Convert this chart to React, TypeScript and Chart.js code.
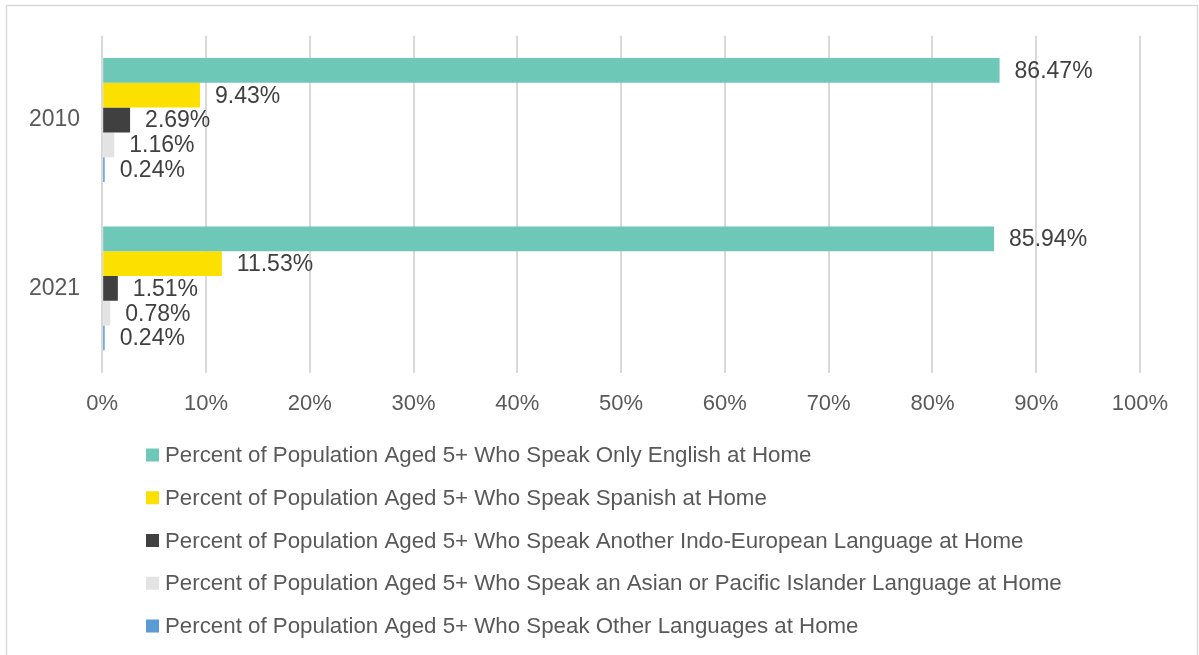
import React, { useEffect, useRef } from "react";
import { Chart, registerables } from "chart.js";

Chart.register(...registerables);

const categories = ["2010", "2021"];
const seriesLabels = [
  "Percent of Population Aged 5+ Who Speak Only English at Home",
  "Percent of Population Aged 5+ Who Speak Spanish at Home",
  "Percent of Population Aged 5+ Who Speak Another Indo-European Language at Home",
  "Percent of Population Aged 5+ Who Speak an Asian or Pacific Islander Language at Home",
  "Percent of Population Aged 5+ Who Speak Other Languages at Home",
];
const onlyEnglish = [86.47, 85.94];
const spanish = [9.43, 11.53];
const indoEuropean = [2.69, 1.51];
const asianPacific = [1.16, 0.78];
const otherLanguages = [0.24, 0.24];
const seriesColors = ["#6DC8B7", "#FCE000", "#404040", "#E3E3E3", "#5B9BD5"];
const xTicks = [0, 10, 20, 30, 40, 50, 60, 70, 80, 90, 100];

const FONT = "'Liberation Sans', Arial, sans-serif";

const valueLabelPlugin = {
  id: "valueLabels",
  afterDatasetsDraw(chart: any) {
    const ctx = chart.ctx;
    ctx.save();
    ctx.font = `23px ${FONT}`;
    ctx.fillStyle = "#404040";
    ctx.textBaseline = "middle";
    ctx.textAlign = "left";
    chart.data.datasets.forEach((ds: any, di: number) => {
      const meta = chart.getDatasetMeta(di);
      meta.data.forEach((bar: any, i: number) => {
        const v = ds.data[i];
        ctx.fillText(v.toFixed(2) + "%", bar.x + 15, bar.y + 1);
      });
    });
    ctx.restore();
  },
};

const legendPlugin = {
  id: "customLegend",
  afterDraw(chart: any) {
    const ctx = chart.ctx;
    ctx.save();
    ctx.font = `22.3px ${FONT}`;
    ctx.textBaseline = "middle";
    ctx.textAlign = "left";
    const startY = 455;
    const step = 42.75;
    chart.data.datasets.forEach((ds: any, i: number) => {
      const y = startY + i * step;
      ctx.fillStyle = ds.backgroundColor;
      ctx.fillRect(146, y - 6.5, 13, 13);
      ctx.fillStyle = "#595959";
      ctx.fillText(ds.label, 165, y + 1);
    });
    // outer border
    ctx.strokeStyle = "#D9D9D9";
    ctx.lineWidth = 1.5;
    ctx.strokeRect(6.5, 5.5, 1191, 700);
    ctx.restore();
  },
};

export default function App() {
  const ref = useRef<HTMLCanvasElement>(null);
  useEffect(() => {
    document.body.style.margin = "0";
    const seriesValues = [onlyEnglish, spanish, indoEuropean, asianPacific, otherLanguages];
    const chart = new Chart(ref.current!, {
      type: "bar",
      data: {
        labels: categories,
        datasets: seriesLabels.map((label, i) => ({
          label,
          data: seriesValues[i],
          backgroundColor: seriesColors[i],
          borderWidth: 0,
          barPercentage: 1,
          categoryPercentage: 0.736,
        })),
      },
      options: {
        indexAxis: "y",
        animation: false,
        responsive: false,
        maintainAspectRatio: false,
        layout: { padding: { left: 7, right: 59, top: 35, bottom: 220 } },
        plugins: {
          legend: { display: false },
          tooltip: { enabled: false },
        },
        scales: {
          x: {
            min: 0,
            max: 100,
            afterBuildTicks: (axis: any) => {
              axis.ticks = xTicks.map((v) => ({ value: v }));
            },
            ticks: {
              callback: (v: any) => v + "%",
              color: "#595959",
              font: { family: FONT, size: 22 },
              padding: 18,
            },
            grid: { color: "#D9D9D9", lineWidth: 2, drawTicks: false },
            border: { display: false },
          },
          y: {
            ticks: {
              color: "#595959",
              font: { family: FONT, size: 23 },
              padding: 22,
            },
            grid: { display: false, drawTicks: false },
            border: { display: false },
          },
        },
      },
      plugins: [valueLabelPlugin, legendPlugin],
    });
    return () => chart.destroy();
  }, []);
  return (
    <div style={{ width: 1199, height: 655, position: "relative" }}>
      <canvas ref={ref} width={1199} height={655} style={{ display: "block" }} />
    </div>
  );
}
